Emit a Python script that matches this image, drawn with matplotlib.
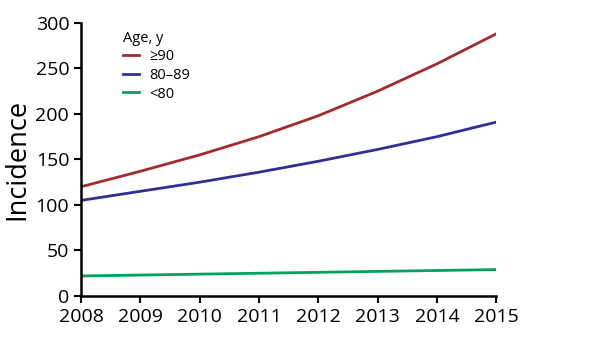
import matplotlib.pyplot as plt

# data
years = [2008, 2009, 2010, 2011, 2012, 2013, 2014, 2015]
age_90_plus = [120, 137, 155, 175, 198, 225, 255, 288]
age_80_89 = [105, 115, 125, 136, 148, 161, 175, 191]
age_under_80 = [22, 23, 24, 25, 26, 27, 28, 29]

plt.rcParams['font.family'] = ['Open Sans', 'DejaVu Sans']

fig = plt.figure(figsize=(6, 3.47), dpi=100)
ax = fig.add_axes([0.135, 0.147, 0.692, 0.787])

ax.plot(years, age_90_plus, color='#a52a2a', lw=2.0, label='≥90')
ax.plot(years, age_80_89, color='#2e3192', lw=2.0, label='80–89')
ax.plot(years, age_under_80, color='#00a35a', lw=2.0, label='<80')

ax.set_xlim(2008, 2015)
ax.set_ylim(0, 300)
ax.set_xticks(years)
ax.set_yticks(range(0, 301, 50))
ax.tick_params(labelsize=14, width=1.5, length=5, direction='out')
ax.set_ylabel('Incidence', fontsize=19.5, labelpad=3)

for s in ['top', 'right']:
    ax.spines[s].set_visible(False)
for s in ['left', 'bottom']:
    ax.spines[s].set_linewidth(1.8)

leg = ax.legend(title='Age, y', loc='upper left', bbox_to_anchor=(0.07, 1.02),
                frameon=False, fontsize=10.5, title_fontsize=10.5,
                handlelength=1.05, handletextpad=0.75, labelspacing=0.25)
leg._legend_box.align = 'left'

fig.savefig('out.png', dpi=100)
